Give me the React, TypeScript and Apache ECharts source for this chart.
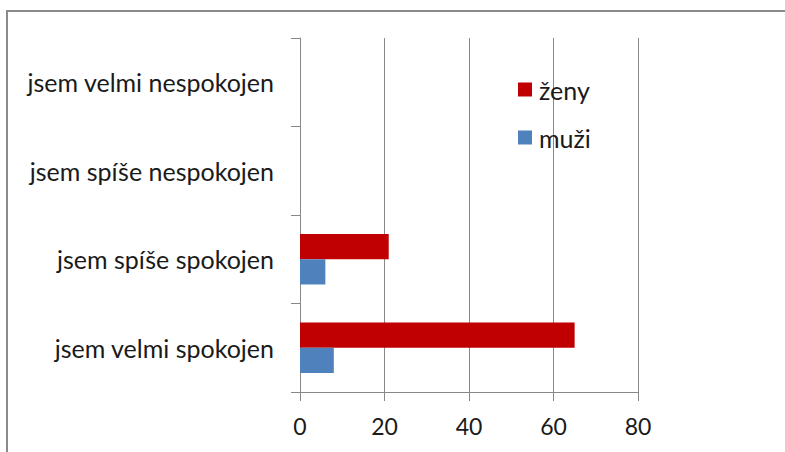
import React, { useEffect, useRef } from "react";
import * as echarts from "echarts";

const categories = [
  "jsem velmi spokojen",
  "jsem spíše spokojen",
  "jsem spíše nespokojen",
  "jsem velmi nespokojen",
];
const zenyValues = [65, 21, 0, 0];
const muziValues = [8, 6, 0, 0];
const xTicks = { min: 0, max: 80, interval: 20 };

const FONT = "Lato";

export default function App() {
  const ref = useRef<HTMLDivElement>(null);
  useEffect(() => {
    const chart = echarts.init(ref.current!, null, { renderer: "svg" });
    chart.setOption({
      animation: false,
      backgroundColor: "#ffffff",
      graphic: [
        {
          type: "rect",
          shape: { x: 7, y: 11, width: 820, height: 480 },
          style: { fill: "none", stroke: "#8a8a8a", lineWidth: 2 },
          silent: true,
          z: 100,
        },
      ],
      legend: {
        orient: "vertical",
        left: 518,
        top: 77,
        padding: 0,
        itemWidth: 14,
        itemHeight: 14,
        itemGap: 23,
        icon: "rect",
        data: ["ženy", "muži"],
        textStyle: { fontFamily: FONT, fontSize: 25, lineHeight: 25, color: "#1a1a1a", padding: [0, 0, 0, 2] },
      },
      grid: { left: 300, right: 147, top: 38, bottom: 60 },
      xAxis: {
        type: "value",
        min: xTicks.min,
        max: xTicks.max,
        interval: xTicks.interval,
        axisLine: { show: true, lineStyle: { color: "#888888", width: 1 } },
        axisTick: { show: true, length: 9, lineStyle: { color: "#888888" } },
        splitLine: { show: true, lineStyle: { color: "#888888", width: 1 } },
        axisLabel: { fontFamily: FONT, fontSize: 23, color: "#1a1a1a", margin: 22 },
      },
      yAxis: {
        type: "category",
        data: categories,
        axisLine: { show: true, lineStyle: { color: "#888888", width: 1 } },
        axisTick: { show: true, length: 9, lineStyle: { color: "#888888" } },
        splitLine: { show: false },
        axisLabel: { fontFamily: FONT, fontSize: 25, color: "#1a1a1a", margin: 26 },
      },
      series: [
        {
          name: "ženy",
          type: "bar",
          data: zenyValues,
          barGap: "0%",
          barCategoryGap: "43%",
          itemStyle: { color: "#C00000" },
        },
        {
          name: "muži",
          type: "bar",
          data: muziValues,
          barGap: "0%",
          barCategoryGap: "43%",
          itemStyle: { color: "#4F81BD" },
        },
      ],
    });
    return () => chart.dispose();
  }, []);
  return <div ref={ref} style={{ width: 785, height: 452, position: "absolute", left: 0, top: 0 }} />;
}
